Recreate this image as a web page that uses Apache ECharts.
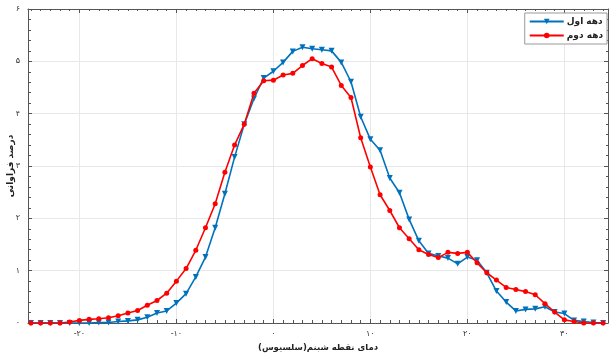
<!DOCTYPE html>
<html>
<head>
<meta charset="utf-8">
<script src="https://cdn.jsdelivr.net/npm/echarts@6/dist/echarts.min.js"></script>
<style>
  html, body { margin: 0; padding: 0; background: #fff; }
  #chart { width: 609px; height: 357px; }
</style>
</head>
<body>
<div id="chart"></div>
<script>
// دمای نقطه شبنم، از -25 تا 34
const temps = []
for (let t = -25; t <= 34; t++) temps.push(t)

// دهه اول
const decade1 = [0, 0, 0, 0, 0, 0, 0, 0.01, 0.01, 0.03,
  0.04, 0.06, 0.11, 0.19, 0.23, 0.38, 0.56, 0.88, 1.26, 1.82,
  2.47, 3.17, 3.80, 4.29, 4.68, 4.81, 4.98, 5.19, 5.27, 5.24,
  5.22, 5.20, 4.98, 4.61, 3.94, 3.51, 3.30, 2.77, 2.49, 1.98,
  1.57, 1.33, 1.28, 1.24, 1.13, 1.26, 1.20, 0.96, 0.61, 0.40,
  0.23, 0.26, 0.27, 0.31, 0.21, 0.18, 0.05, 0.03, 0.01, 0]

// دهه دوم
const decade2 = [0, 0, 0, 0, 0.02, 0.05, 0.07, 0.08, 0.10, 0.14,
  0.19, 0.24, 0.34, 0.43, 0.57, 0.80, 1.04, 1.39, 1.82, 2.28,
  2.88, 3.40, 3.80, 4.39, 4.63, 4.64, 4.74, 4.77, 4.92, 5.05,
  4.96, 4.89, 4.54, 4.31, 3.54, 2.98, 2.45, 2.15, 1.82, 1.61,
  1.40, 1.31, 1.25, 1.35, 1.33, 1.35, 1.15, 0.96, 0.82, 0.68,
  0.64, 0.60, 0.54, 0.37, 0.21, 0.06, 0.03, 0, 0, 0]

const seriesNames = ['دهه اول', 'دهه دوم']
const xTitle = 'دمای نقطه شبنم(سلسیوس)\u200f'
const yTitle = 'درصد فراوانی'

const FONT = 'DejaVu Sans'
const AXIS_COLOR = '#555'
const GRID_COLOR = '#e8e8e8'

// ارقام فارسی
const faDigits = '۰۱۲۳۴۵۶۷۸۹'
const toFa = v => String(Math.round(v)).replace(/[0-9]/g, d => faDigits[d])

const xMin = -25.3
const xMax = 34.5

const frameAxis = {
  axisLine: { show: true, onZero: false, lineStyle: { color: AXIS_COLOR, width: 1 } },
  axisTick: { show: true, inside: true, length: 4, lineStyle: { color: AXIS_COLOR } },
  axisLabel: { show: false },
  splitLine: { show: false }
}

const chart = echarts.init(document.getElementById('chart'))
chart.setOption({
  animation: false,
  backgroundColor: '#fff',
  grid: { left: 28, right: 1, top: 9, bottom: 34, containLabel: false, outerBoundsMode: 'none' },
  legend: {
    data: seriesNames,
    orient: 'vertical',
    right: 2,
    top: 13,
    itemWidth: 34,
    itemHeight: 7,
    itemGap: 5,
    padding: [4, 4, 4, 4],
    backgroundColor: '#fff',
    borderColor: '#999',
    borderWidth: 1,
    borderRadius: 0,
    textStyle: { fontFamily: FONT, fontSize: 9, fontWeight: 'bold', color: '#222', padding: [0, 0, 0, -2] }
  },
  xAxis: [
    {
      type: 'value',
      min: xMin,
      max: xMax,
      position: 'bottom',
      name: xTitle,
      nameLocation: 'middle',
      nameGap: 20,
      nameMoveOverlap: false,
      nameTextStyle: { fontFamily: FONT, fontSize: 8.5, fontWeight: 'bold', color: '#222' },
      axisLine: { show: true, onZero: false, lineStyle: { color: AXIS_COLOR, width: 1 } },
      axisTick: { show: true, inside: true, length: 4, lineStyle: { color: AXIS_COLOR } },
      minorTick: { show: true, splitNumber: 10, length: 3, lineStyle: { color: AXIS_COLOR } },
      axisLabel: {
        showMinLabel: false,
        showMaxLabel: false,
        margin: 7,
        fontFamily: FONT,
        fontSize: 8,
        color: '#333',
        formatter: v => (v < 0 ? '-' + toFa(-v) : toFa(v))
      },
      splitLine: { show: true, lineStyle: { color: GRID_COLOR } }
    },
    Object.assign({ type: 'value', min: xMin, max: xMax, position: 'top' }, frameAxis,
      { minorTick: { show: true, splitNumber: 10, length: 2, lineStyle: { color: AXIS_COLOR } } })
  ],
  yAxis: [
    {
      type: 'value',
      min: 0,
      max: 6,
      interval: 1,
      position: 'left',
      name: yTitle,
      nameLocation: 'middle',
      nameGap: 13,
      nameMoveOverlap: false,
      nameTextStyle: { fontFamily: FONT, fontSize: 9, fontWeight: 'bold', color: '#222' },
      axisLine: { show: true, onZero: false, lineStyle: { color: AXIS_COLOR, width: 1 } },
      axisTick: { show: true, inside: true, length: 4, lineStyle: { color: AXIS_COLOR } },
      minorTick: { show: true, splitNumber: 5, length: 3, lineStyle: { color: AXIS_COLOR } },
      axisLabel: { margin: 8, fontFamily: FONT, fontSize: 8, color: '#333', formatter: v => toFa(v) },
      splitLine: { show: true, lineStyle: { color: GRID_COLOR } }
    },
    Object.assign({ type: 'value', min: 0, max: 6, interval: 1, position: 'right' }, frameAxis,
      { minorTick: { show: true, splitNumber: 5, length: 2, lineStyle: { color: AXIS_COLOR } } })
  ],
  series: [
    {
      name: seriesNames[0],
      type: 'line',
      data: temps.map((t, i) => [t, decade1[i]]),
      color: '#0072BD',
      lineStyle: { width: 1.6 },
      symbol: 'triangle',
      symbolRotate: 180,
      symbolSize: 6,
      showAllSymbol: true,
      z: 3
    },
    {
      name: seriesNames[1],
      type: 'line',
      data: temps.map((t, i) => [t, decade2[i]]),
      color: '#FF0000',
      lineStyle: { width: 1.6 },
      symbol: 'circle',
      symbolSize: 5,
      showAllSymbol: true,
      z: 4
    }
  ]
})
</script>
</body>
</html>
